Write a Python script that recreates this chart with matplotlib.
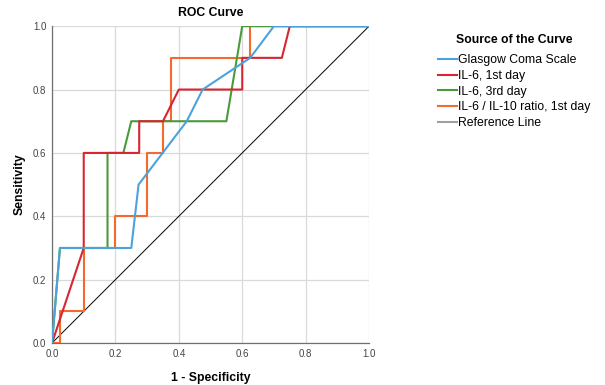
import matplotlib
matplotlib.use('Agg')
import matplotlib.pyplot as plt
from matplotlib.lines import Line2D

plt.rcParams['font.family'] = ['Liberation Sans', 'DejaVu Sans']

# ROC curve points (1 - specificity, sensitivity)
gcs_x = [0.0, 0.025, 0.25, 0.273, 0.425, 0.475, 0.625, 0.70, 1.0]
gcs_y = [0.0, 0.30, 0.30, 0.50, 0.70, 0.80, 0.90, 1.0, 1.0]

il6_d1_x = [0.0, 0.10, 0.10, 0.275, 0.275, 0.35, 0.40, 0.60, 0.60, 0.725, 0.75, 1.0]
il6_d1_y = [0.0, 0.30, 0.60, 0.60, 0.70, 0.70, 0.80, 0.80, 0.90, 0.90, 1.0, 1.0]

il6_d3_x = [0.0, 0.025, 0.175, 0.175, 0.225, 0.25, 0.55, 0.60, 1.0]
il6_d3_y = [0.0, 0.30, 0.30, 0.60, 0.60, 0.70, 0.70, 1.0, 1.0]

ratio_x = [0.0, 0.025, 0.025, 0.10, 0.10, 0.20, 0.20, 0.30, 0.30, 0.35, 0.35, 0.375, 0.375, 0.625, 0.625, 1.0]
ratio_y = [0.0, 0.0, 0.10, 0.10, 0.30, 0.30, 0.40, 0.40, 0.60, 0.60, 0.70, 0.70, 0.90, 0.90, 1.0, 1.0]

ref_x = [0.0, 1.0]
ref_y = [0.0, 1.0]

ticks = [0.0, 0.2, 0.4, 0.6, 0.8, 1.0]

fig = plt.figure(figsize=(6.05, 3.85), dpi=100)
ax = fig.add_axes([0.086, 0.109, 0.524, 0.823])

ax.plot(ref_x, ref_y, color='black', lw=0.7, zorder=2)
ax.plot(ratio_x, ratio_y, color='#f26a2e', lw=1.5, zorder=3)
ax.plot(il6_d3_x, il6_d3_y, color='#4a9a3c', lw=1.5, zorder=4)
ax.plot(il6_d1_x, il6_d1_y, color='#d7262f', lw=1.5, zorder=5)
ax.plot(gcs_x, gcs_y, color='#4ca3dc', lw=1.5, zorder=6)

ax.set_xlim(0, 1)
ax.set_ylim(0, 1)
ax.set_xticks(ticks)
ax.set_yticks(ticks)
ax.set_xticklabels([f'{t:.1f}' for t in ticks])
ax.set_yticklabels([f'{t:.1f}' for t in ticks])
ax.tick_params(length=0, labelsize=7, colors='#444444', pad=4)
ax.grid(True, color='#d9d9d9', lw=0.9)
ax.set_axisbelow(True)
for s in ['top', 'right']:
    ax.spines[s].set_visible(False)
for s in ['left', 'bottom']:
    ax.spines[s].set_color('#707070')
    ax.spines[s].set_linewidth(0.9)

ax.set_title('ROC Curve', fontsize=8.8, fontweight='bold', pad=7)
ax.set_xlabel('1 - Specificity', fontsize=8.8, fontweight='bold', labelpad=10)
ax.set_ylabel('Sensitivity', fontsize=8.8, fontweight='bold', labelpad=5)

handles = [
    Line2D([], [], color='#4ca3dc', lw=1.5),
    Line2D([], [], color='#d7262f', lw=1.5),
    Line2D([], [], color='#4a9a3c', lw=1.5),
    Line2D([], [], color='#f26a2e', lw=1.5),
    Line2D([], [], color='#a0a0a0', lw=1.5),
]
labels = ['Glasgow Coma Scale', 'IL-6, 1st day', 'IL-6, 3rd day',
          'IL-6 / IL-10 ratio, 1st day', 'Reference Line']
leg = fig.legend(handles, labels, loc='upper left', bbox_to_anchor=(0.705, 0.94),
                 frameon=False, fontsize=8.8, handlelength=1.6, handletextpad=0.1,
                 labelspacing=0.3, title='Source of the Curve',
                 title_fontproperties={'weight': 'bold', 'size': 8.8})
leg._legend_box.sep = 6

fig.savefig('out.png', dpi=100)
